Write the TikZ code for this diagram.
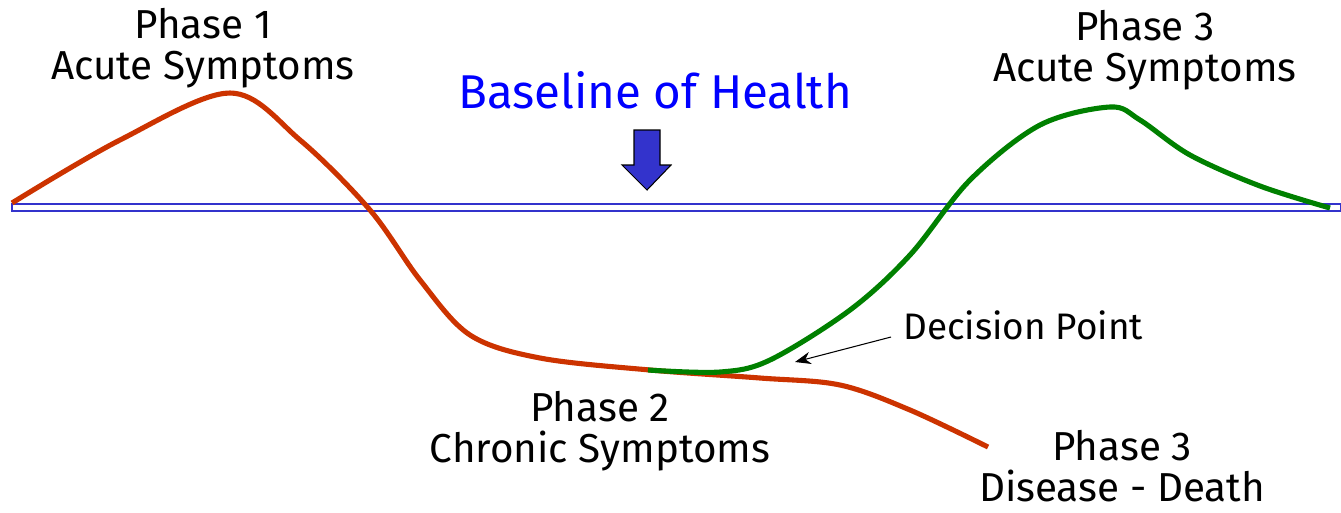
\documentclass[tikz,border=0pt]{standalone}
\usepackage{fontspec}
\setmainfont{Fira Sans}
\usetikzlibrary{positioning,arrows.meta,calc}

\definecolor{acutered}{RGB}{204,51,0}
\definecolor{healgreen}{RGB}{0,128,0}
\definecolor{baseblue}{RGB}{51,51,204}

\begin{document}
\begin{tikzpicture}[
  x=0.02cm, y=-0.02cm,
  phase/.style={align=center, font=\fontsize{23}{23}\selectfont, inner sep=0pt},
  redline/.style={draw=acutered, line width=2.9pt, line join=round},
  greenline/.style={draw=healgreen, line width=2.9pt, line join=round}
]
\useasboundingbox (0,0) rectangle (1341,512);

% baseline of health
\draw[baseblue, line width=0.8pt, fill=white] (12,204) rectangle (1341,211);

% phase 2 -> phase 3 (disease)
\draw[redline] plot[smooth, tension=0.55] coordinates {
  (12,203) (120,140) (230,93) (300,140) (370,210) (420,280)
  (470,335) (540,358) (650,370) (760,378) (840,385) (910,410) (988,447)};

% recovery towards phase 3 (acute)
\draw[greenline] plot[smooth, tension=0.55] coordinates {
  (648,370) (720,372) (770,360) (850,310) (910,255) (970,180)
  (1040,125) (1110,107) (1140,120) (1190,155) (1260,186) (1330,208)};

% arrow onto the baseline
\draw[black, line width=0.6pt, fill=baseblue]
  (634,130) -- (660,130) -- (660,165) -- (671,165) -- (647,190)
  -- (622,165) -- (634,165) -- cycle;

\node[phase] (acute1) at (203,48) {Phase 1\\Acute Symptoms};
\node[phase] (acute3) at (1145,50) {Phase 3\\Acute Symptoms};
\node[phase] (chronic) at (600,431) {Phase 2\\Chronic Symptoms};
\node[phase] (death) at (1122,466) {Phase 3\\Disease - Death};
\node[inner sep=0pt, text=blue, font=\fontsize{27}{27}\selectfont] (baseline) at (655,90) {Baseline of Health};
\node[inner sep=0pt, anchor=west, font=\fontsize{21}{21}\selectfont] (decision) at (903,325) {Decision Point};

\coordinate (fork) at (795,362);
\draw[-{Stealth[length=9pt,width=7pt]}, line width=0.6pt] ($(decision.west)+(-12,12)$) -- (fork);
\end{tikzpicture}
\end{document}
